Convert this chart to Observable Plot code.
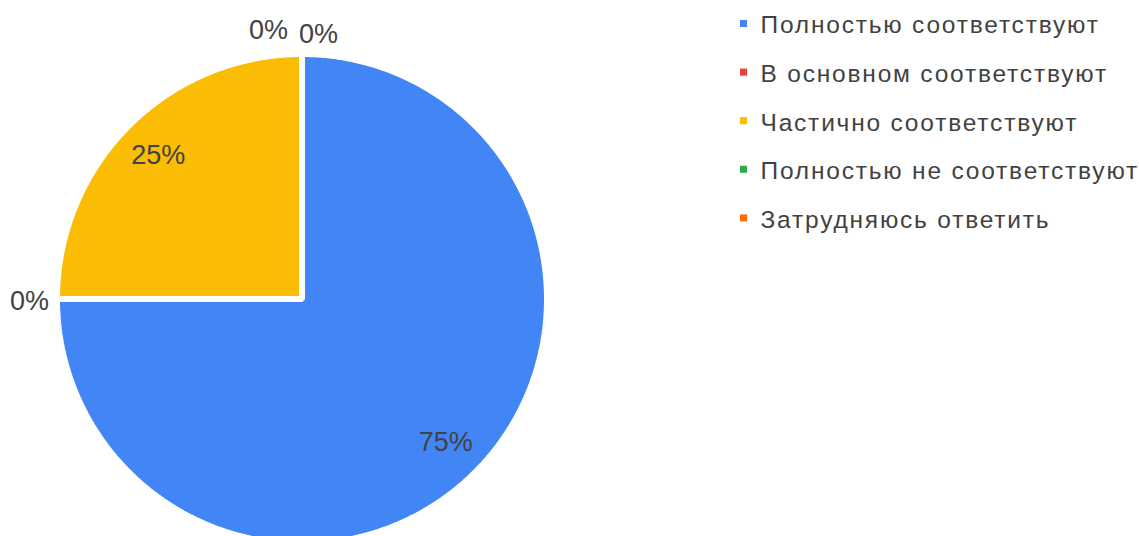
<!DOCTYPE html>
<html>
<head>
<meta charset="utf-8">
<script src="https://cdn.jsdelivr.net/npm/d3@7"></script>
<script src="https://cdn.jsdelivr.net/npm/@observablehq/plot@0.6"></script>
<style>
  html, body { margin: 0; padding: 0; background: #fff; }
  #chart { width: 1139px; height: 536px; overflow: hidden; }
</style>
</head>
<body>
<div id="chart"></div>
<script>
const categories = [
  "Полностью соответствуют",
  "В основном соответствуют",
  "Частично соответствуют",
  "Полностью не соответствуют",
  "Затрудняюсь ответить"
];
const values = [75, 0, 25, 0, 0];
const colors = ["#4285f4", "#ea4335", "#fbbc04", "#34a853", "#ff6d01"];

// layout
const W = 1139, H = 536;
const cx = 301.5, cy = 298.5, R = 245;
const font = "Arial, 'Liberation Sans', sans-serif";

const rows = categories.map((c, i) => ({cat: c, value: values[i], i}));
const total = d3.sum(values);
const arcs = d3.pie().sort(null).value(d => d.value).startAngle(0).endAngle(2 * Math.PI)(rows);
const pt = (a, r) => [cx + r * Math.sin(a), cy - r * Math.cos(a)];

// slice polygons
const slicePts = [];
arcs.forEach(a => {
  if (a.endAngle - a.startAngle <= 0) return;
  slicePts.push({cat: a.data.cat, x: cx, y: cy});
  const n = Math.max(2, Math.ceil((a.endAngle - a.startAngle) / (Math.PI / 360)));
  for (let k = 0; k <= n; k++) {
    const t = a.startAngle + (a.endAngle - a.startAngle) * k / n;
    const [x, y] = pt(t, R);
    slicePts.push({cat: a.data.cat, x, y});
  }
});

// labels
const fmt = d3.format(".0%");
const labels = arcs.map(a => {
  const mid = (a.startAngle + a.endAngle) / 2;
  const zero = a.data.value === 0;
  const [x, y] = zero ? pt(mid, R + 8) : pt(mid, R * 0.83);
  return {cat: a.data.cat, text: fmt(a.data.value / total), x, y, zero, angle: mid, i: a.data.i};
});
// anchors for outside labels
const groups = d3.group(labels.filter(d => d.zero), d => d.angle.toFixed(4));
labels.forEach(d => {
  if (!d.zero) { d.anchor = "middle"; d.line = "middle"; d.dx = 0; d.dy = 0; return; }
  const s = Math.sin(d.angle), c = Math.cos(d.angle);
  d.line = Math.abs(c) > 0.7 ? (c > 0 ? "bottom" : "top") : "middle";
  const g = groups.get(d.angle.toFixed(4));
  if (g.length > 1 && Math.abs(s) < 0.3) {
    const k = g.indexOf(d);
    d.anchor = k === 0 ? "end" : "start";
    d.dx = k === 0 ? -14 : -3;
    d.dy = k === 0 ? -7 : -3;
  } else {
    d.anchor = s < -0.3 ? "end" : s > 0.3 ? "start" : "middle";
    d.dx = 0; d.dy = 2;
  }
});

// legend
const legX = 743, legY0 = 25, legStep = 48.6;
const legend = categories.map((c, i) => ({cat: c, x: legX, y: legY0 + i * legStep}));

const labelMarks = labels.map(d => Plot.text([d], {
  x: "x", y: "y", text: "text",
  textAnchor: d.anchor, lineAnchor: d.line,
  dx: d.dx, dy: d.dy,
  fontSize: 27, fill: "#424242"
}));

const legendText = Plot.text(legend, {
  x: "x", y: "y", text: "cat", dx: 17, textAnchor: "start",
  fontSize: 24.5, fill: "#424242", lineAnchor: "middle"
});

const chart = Plot.plot({
  width: W, height: H,
  margin: 0,
  x: {type: "identity", axis: null},
  y: {type: "identity", axis: null},
  color: {domain: categories, range: colors},
  style: {fontFamily: font, background: "#fff", overflow: "hidden"},
  marks: [
    Plot.line(slicePts, {
      x: "x", y: "y", z: "cat", fill: "cat",
      stroke: "#fff", strokeWidth: 6, strokeLinejoin: "miter",
      curve: "linear-closed"
    }),
    ...labelMarks,
    Plot.dot(legend, {x: "x", y: "y", dy: -2, symbol: "square", r: 4, fill: "cat", stroke: null}),
    legendText
  ]
});
// widen legend lettering (matches reference tracking)
const textGroups = chart.querySelectorAll('g[aria-label="text"]');
textGroups[textGroups.length - 1].style.letterSpacing = "1.8px";
document.getElementById("chart").appendChild(chart);
</script>
</body>
</html>
